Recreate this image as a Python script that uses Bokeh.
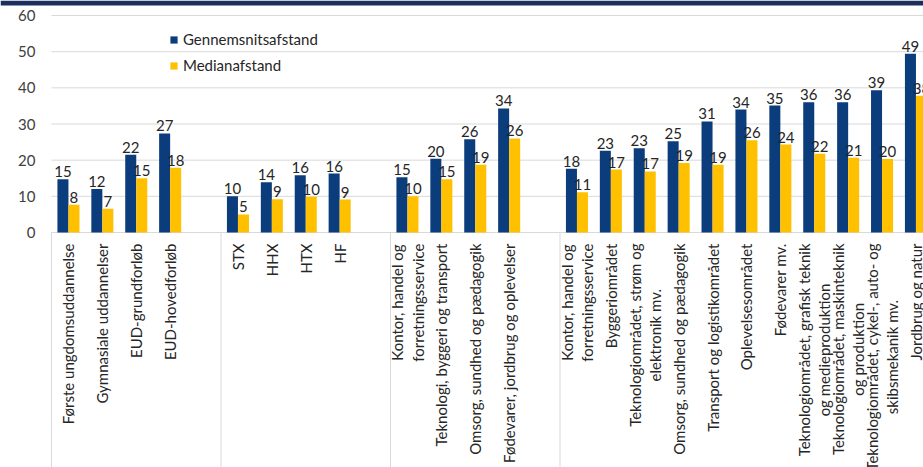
import math
from bokeh.plotting import figure
from bokeh.models import (ColumnDataSource, Range1d, Legend, LegendItem, BoxAnnotation)
from bokeh.core.properties import value
from bokeh.embed import file_html
from bokeh.resources import INLINE

# ---------------- data ----------------
group1 = ["Første ungdomsuddannelse", "Gymnasiale uddannelser", "EUD-grundforløb", "EUD-hovedforløb"]
group2 = ["STX", "HHX", "HTX", "HF"]
group3 = ["Kontor, handel og\nforretningsservice", "Teknologi, byggeri og transport",
          "Omsorg, sundhed og pædagogik", "Fødevarer, jordbrug og oplevelser"]
group4 = ["Kontor, handel og\nforretningsservice", "Byggeriområdet",
          "Teknologiområdet, strøm og\nelektronik mv.", "Omsorg, sundhed og pædagogik",
          "Transport og logistikområdet", "Oplevelsesområdet", "Fødevarer mv.",
          "Teknologiområdet, grafisk teknik\nog medieproduktion",
          "Teknologiområdet, maskinteknik\nog produktion",
          "Teknologiområdet, cykel-, auto- og\nskibsmekanik mv.", "Jordbrug og natur"]
groups = [group1, group2, group3, group4]

mean_values = [14.7, 12.0, 21.5, 27.4,
               10.0, 13.9, 15.8, 16.3,
               15.3, 20.4, 25.8, 34.3,
               17.6, 22.6, 23.3, 25.2, 30.7, 34.0, 35.1, 36.0, 36.0, 39.3, 49.4]
median_values = [7.7, 6.6, 15.0, 17.9,
                 5.0, 9.2, 9.9, 9.1,
                 10.0, 14.7, 18.7, 26.0,
                 11.1, 17.4, 16.9, 19.2, 18.7, 25.5, 24.3, 21.8, 20.7, 20.3, 37.8]

series_names = ["Gennemsnitsafstand", "Medianafstand"]
y_ticks = [0, 10, 20, 30, 40, 50, 60]

NAVY = "#0b3c7c"
YELLOW = "#ffc000"
GRID = "#d9d9d9"
TEXT = "#262626"
BAND = "#1b2f5c"
FONT = "Lato"

# ---------------- layout ----------------
W, H = 923, 467
SLOT_PX = 33.9            # width of one category slot
PX_PER_UNIT = 217 / 60.0  # value axis scale
LEFT_PX, TOP_PX, ZERO_PX = 51, 15, 232

positions, labels, separators = [], [], []
slot = 0
for g in groups:
    separators.append(slot - 0.5)
    for name in g:
        positions.append(slot)
        labels.append(name)
        slot += 1
    slot += 1  # blank slot between groups

x_start = -0.5 - LEFT_PX / SLOT_PX
x_end = -0.5 + (W - LEFT_PX) / SLOT_PX
y_end = 60 + (TOP_PX) / PX_PER_UNIT
y_start = -(H - ZERO_PX) / PX_PER_UNIT
x_left_edge = separators[0]

bw = 0.325
src = ColumnDataSource(dict(
    xm=[x - bw / 2 for x in positions],
    xd=[x + bw / 2 for x in positions],
    mean=mean_values,
    median=median_values,
    mean_lbl=[str(round(v)) for v in mean_values],
    median_lbl=[str(round(v)) for v in median_values],
))
lab_src = ColumnDataSource(dict(x=positions, y=[0] * len(positions), text=labels))
sep_src = ColumnDataSource(dict(x=separators, y0=[0] * len(separators),
                                y1=[y_start] * len(separators)))
grid_src = ColumnDataSource(dict(x0=[x_left_edge] * len(y_ticks), x1=[x_end] * len(y_ticks),
                                 y=y_ticks, text=[str(t) for t in y_ticks]))

p = figure(width=W, height=H, output_backend="svg", toolbar_location=None,
           x_range=Range1d(x_start, x_end), y_range=Range1d(y_start, y_end))
p.min_border_left = 0
p.min_border_right = 0
p.min_border_top = 0
p.min_border_bottom = 0
p.outline_line_color = None
p.background_fill_color = "white"
p.border_fill_color = "white"
p.xaxis.visible = False
p.yaxis.visible = False
p.grid.visible = False

# top band
p.add_layout(BoxAnnotation(bottom=60 + 10 / PX_PER_UNIT, fill_color=BAND, fill_alpha=1,
                           line_color=None))

# horizontal grid lines (0 line doubles as category axis) and value-axis labels
p.segment(x0="x0", y0="y", x1="x1", y1="y", source=grid_src, line_color=GRID, line_width=1)
p.text(x="x0", y="y", text="text", source=grid_src, x_offset=-16, text_align="right",
       text_baseline="middle", text_font=value(FONT), text_font_size="15px",
       text_color="#404040")

# group separators in the label area
p.segment(x0="x", y0="y0", x1="x", y1="y1", source=sep_src, line_color=GRID, line_width=1)

r1 = p.vbar(x="xm", top="mean", width=bw, source=src, fill_color=NAVY, line_color=None)
r2 = p.vbar(x="xd", top="median", width=bw, source=src, fill_color=YELLOW, line_color=None)

for xcol, ycol, tcol in [("xm", "mean", "mean_lbl"), ("xd", "median", "median_lbl")]:
    p.text(x=xcol, y=ycol, text=tcol, source=src, text_align="center", text_baseline="bottom",
           y_offset=-2, text_font=value(FONT), text_font_size="15px", text_color=TEXT)

# category labels, rotated, hanging from the axis
p.text(x="x", y="y", text="text", source=lab_src, angle=math.pi / 2,
       anchor=value("center_right"), text_align="center", text_baseline="middle",
       y_offset=11, text_font=value(FONT), text_font_size="15px", text_color=TEXT,
       text_line_height=1.12)

# legend
legend = Legend(items=[LegendItem(label=series_names[0], renderers=[r1]),
                       LegendItem(label=series_names[1], renderers=[r2])],
                location=(169, H - 74), orientation="vertical")
legend.padding = 0
legend.spacing = 8
legend.border_line_color = None
legend.background_fill_alpha = 0
legend.glyph_width = 9
legend.glyph_height = 9
legend.label_height = 17
legend.label_standoff = 5
legend.label_text_font = FONT
legend.label_text_font_size = "15px"
legend.label_text_color = TEXT
p.add_layout(legend)

open("out.html", "w").write(file_html(p, INLINE))
